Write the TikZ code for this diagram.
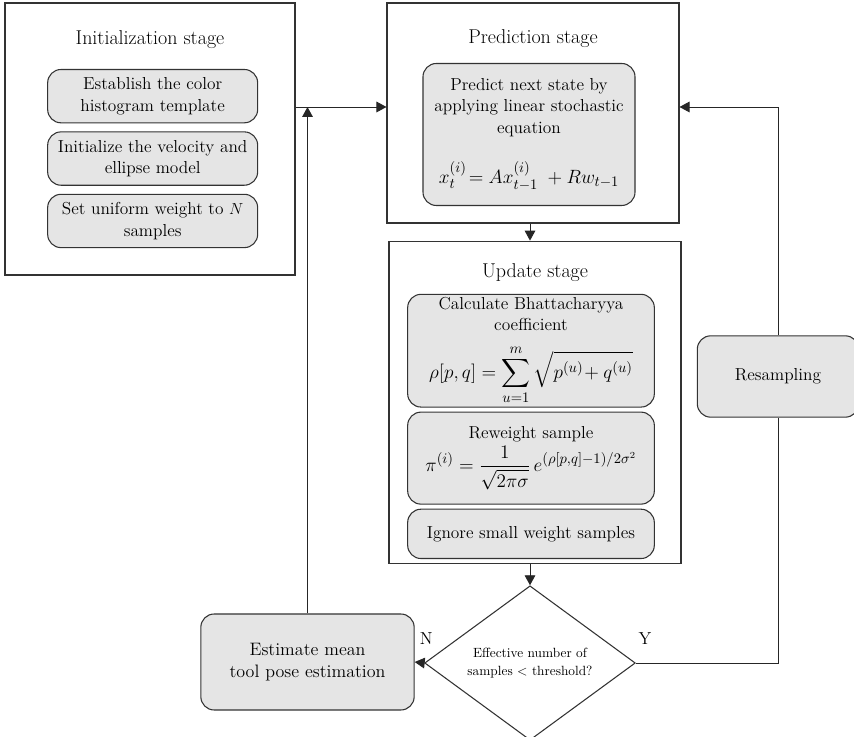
\documentclass[tikz,border=0pt]{standalone}
\usepackage{amsmath}
\usepackage{amssymb}
\usepackage{tikz}
\usetikzlibrary{positioning, arrows.meta, shapes.geometric}

\newcommand{\eqsize}{\fontsize{15}{18}\selectfont}

\begin{document}
\begin{tikzpicture}[
    x=0.75pt, y=-0.75pt,
    stage/.style={rectangle, draw=black!80, line width=0.8pt, fill=white},
    stagetitle/.style={font=\fontsize{15}{18}\selectfont, inner sep=3pt},
    task/.style={rectangle, draw=black!80, line width=0.8pt, fill=gray!20, rounded corners=10pt, align=center, font=\fontsize{13}{16}\selectfont, inner sep=2pt},
    check/.style={diamond, draw=black!80, line width=0.8pt, fill=white, align=center, font=\fontsize{10}{13}\selectfont, minimum width=158pt, minimum height=104pt, inner sep=0pt},
    flow/.style={-{Triangle[length=7.5pt, width=8pt]}, line width=0.7pt, draw=black!85},
    yn/.style={font=\fontsize{13}{16}\selectfont}
]
\useasboundingbox (0,0) rectangle (854,737);

% stage frames
\node[stage, minimum width=217.5pt, minimum height=204pt] (init) at (150,139) {};
\node[stage, minimum width=219pt, minimum height=165pt] (pred) at (533,113) {};
\node[stage, minimum width=219pt, minimum height=242pt] (upd) at (535,402.5) {};

\node[stagetitle, below=18pt of init.north] (inittitle) {Initialization stage};
\node[stagetitle, below=17.5pt of pred.north] (predtitle) {Prediction stage};
\node[stagetitle, below=14pt of upd.north] (updtitle) {Update stage};

% initialization
\node[task, minimum width=157.5pt, minimum height=40pt, below=12pt of inittitle, xshift=2pt] (hist) {Establish the color\\histogram template};
\node[task, minimum width=157.5pt, minimum height=40pt, below=6pt of hist] (velo) {Initialize the velocity and\\ellipse model};
\node[task, minimum width=157.5pt, minimum height=40pt, below=6pt of velo] (weight) {Set uniform weight to $N$\\samples};

% prediction
\node[task, minimum width=159pt, minimum height=106.5pt, below=8pt of predtitle, xshift=-3pt] (predict)
    {Predict next state by\\applying linear stochastic\\equation\\[18pt]
     \eqsize$x_t^{(i)}\!= A x_{t-1}^{(i)} \;+ R w_{t-1}$};

% update
\node[task, minimum width=185pt, minimum height=82.5pt, below=6pt of updtitle, xshift=-3pt] (bhat)
    {Calculate Bhattacharyya\\coefficient\\[10pt]
     \eqsize$\displaystyle \rho[p,q] = \sum_{u=1}^{m}\sqrt{p^{(u)}\!+q^{(u)}}$};
\node[task, minimum width=185pt, minimum height=69pt, below=3pt of bhat] (rew)
    {Reweight sample\\[2pt]
     \eqsize$\displaystyle \pi^{(i)} = \frac{1}{\sqrt{2\pi\sigma}}\, e^{(\rho[p,q]-1)/2\sigma^2}$};
\node[task, minimum width=185pt, minimum height=37pt, below=3pt of rew] (ignore) {Ignore small weight samples};

% decision and outcomes
\node[check] (dec) at (530,663) {Effective number of\\samples < threshold?};
\node[task, minimum width=160pt, minimum height=72pt, font=\fontsize{13.5}{17}\selectfont] (est) at (307.5,662) {Estimate mean\\tool pose estimation};
\node[task, minimum width=121pt, minimum height=61pt] (resamp) at (778,376.5) {Resampling};

\coordinate (join) at (307.5,107);

\draw[flow] (init.east |- join) -- (pred.west |- join);
\draw[flow] (est.north) -- (join);
\draw[flow] (pred.south -| dec.north) -- (upd.north -| dec.north);
\draw[flow] (upd.south -| dec.north) -- (dec.north);
\draw[flow] (dec.west) -- (est.east);
\draw[line width=0.7pt, draw=black!85] (dec.east) -| (resamp.south);
\draw[flow] (resamp.north) |- (pred.east |- join);

\node[yn] (no) at ([shift={(2,-24)}]dec.west) {N};
\node[yn] (yes) at ([shift={(9,-24)}]dec.east) {Y};
\end{tikzpicture}
\end{document}
